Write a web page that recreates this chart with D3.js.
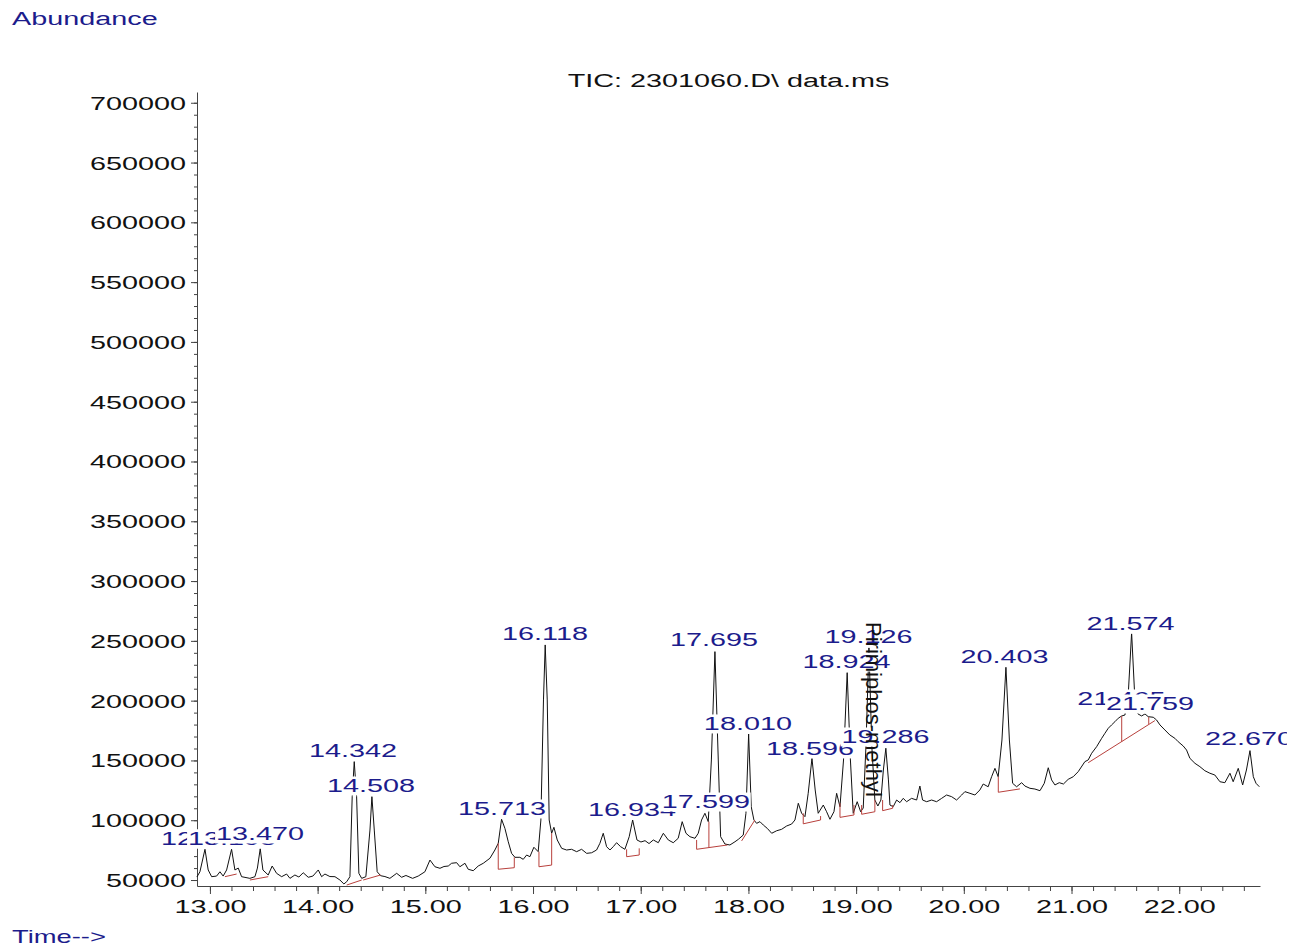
<!DOCTYPE html>
<html>
<head>
<meta charset="utf-8">
<script src="https://cdn.jsdelivr.net/npm/d3@7"></script>
<style>
  body { margin: 0; background: #fff; }
  svg { display: block; }
</style>
</head>
<body>
<div id="app"></div>
<script>
// TIC trace, [retention time (min), abundance]
const tic = [
  [12.879,52500],[12.907,56900],[12.954,75700],[12.984,58400],[13.016,52800],[13.062,53300],[13.093,56900],[13.123,53300],
  [13.155,58400],[13.201,75700],[13.232,58400],[13.263,60000],[13.294,52800],[13.371,51400],[13.418,52800],[13.441,60000],
  [13.467,76200],[13.492,58400],[13.541,54200],[13.578,61700],[13.619,55600],[13.666,52800],[13.712,55000],[13.743,51400],
  [13.789,54200],[13.826,52500],[13.866,56100],[13.913,52300],[13.956,53300],[14.006,58400],[14.037,52800],[14.068,55000],
  [14.114,52900],[14.161,52800],[14.207,50000],[14.244,46700],[14.270,48600],[14.300,52800],[14.321,119700],[14.340,149000],
  [14.362,119700],[14.383,55600],[14.409,51400],[14.448,52800],[14.486,91800],[14.504,119700],[14.526,91800],[14.553,56900],
  [14.585,53600],[14.625,52900],[14.671,51400],[14.734,55600],[14.780,52300],[14.820,53800],[14.882,51400],[14.934,53300],
  [14.996,56900],[15.043,66700],[15.089,61100],[15.136,59800],[15.173,61300],[15.213,61700],[15.244,64000],[15.291,64500],
  [15.321,61100],[15.368,64000],[15.398,59000],[15.445,57800],[15.491,61700],[15.538,64000],[15.600,68200],[15.646,75100],
  [15.677,80700],[15.708,100800],[15.739,93200],[15.770,82000],[15.801,72300],[15.832,69000],[15.878,69000],[15.909,67300],
  [15.941,70900],[15.971,69500],[16.008,77400],[16.048,73700],[16.073,100200],[16.097,200600],[16.113,246600],[16.132,200600],
  [16.150,100200],[16.173,89100],[16.194,94100],[16.225,83500],[16.266,76500],[16.312,75100],[16.358,75700],[16.405,73700],
  [16.451,75700],[16.498,72300],[16.544,72800],[16.590,75100],[16.621,80700],[16.652,89100],[16.683,77900],[16.714,75100],
  [16.745,77900],[16.776,81200],[16.813,77900],[16.853,75700],[16.893,86200],[16.925,100200],[16.965,83500],[17.002,81800],
  [17.040,82900],[17.077,80500],[17.117,83500],[17.163,81200],[17.210,89100],[17.256,83500],[17.302,81200],[17.348,84900],
  [17.385,98800],[17.420,89100],[17.457,86200],[17.504,84900],[17.534,89100],[17.565,100200],[17.596,105800],[17.627,98800],
  [17.656,150400],[17.689,241000],[17.720,150400],[17.742,86200],[17.782,80100],[17.828,79300],[17.875,82000],[17.906,84000],
  [17.952,87600],[17.977,105800],[18.002,172100],[18.026,111300],[18.051,100200],[18.076,97400],[18.107,98800],[18.138,96000],
  [18.175,93200],[18.216,89100],[18.262,91200],[18.308,92400],[18.355,95200],[18.401,96800],[18.432,100200],[18.463,114200],
  [18.494,105800],[18.525,103000],[18.555,122500],[18.590,151800],[18.620,125300],[18.648,105800],[18.695,112700],[18.726,107100],
  [18.757,100800],[18.794,107100],[18.819,122500],[18.850,111300],[18.883,150400],[18.917,223400],[18.947,150400],[18.973,105800],
  [19.010,115500],[19.042,107100],[19.066,110200],[19.091,161500],[19.119,244100],[19.146,161500],[19.174,116900],[19.202,111900],
  [19.230,116900],[19.253,142000],[19.276,160200],[19.300,133700],[19.314,112700],[19.344,111300],[19.376,116900],[19.407,114700],
  [19.437,118300],[19.469,115500],[19.515,118300],[19.562,116900],[19.592,128600],[19.617,116900],[19.655,115500],[19.701,116900],
  [19.747,115500],[19.794,118300],[19.840,121100],[19.887,119700],[19.933,116900],[19.980,121100],[20.010,123900],[20.057,122500],
  [20.103,121100],[20.149,125300],[20.180,130300],[20.226,128000],[20.258,136400],[20.289,143400],[20.319,136400],[20.354,167100],
  [20.391,227900],[20.423,167100],[20.453,130900],[20.490,128000],[20.537,131400],[20.567,128600],[20.614,126700],[20.660,126100],
  [20.707,124700],[20.747,130900],[20.784,143900],[20.815,133700],[20.846,129500],[20.886,131400],[20.925,130300],[20.969,134200],
  [21.016,136400],[21.062,140600],[21.124,149000],[21.155,150400],[21.187,156000],[21.233,161500],[21.280,168500],[21.310,172700],
  [21.341,176900],[21.372,179700],[21.403,182400],[21.434,185300],[21.466,187200],[21.496,188000],[21.529,208900],[21.558,256900],
  [21.584,208900],[21.617,188900],[21.651,187200],[21.682,188900],[21.712,186600],[21.759,186100],[21.790,183800],[21.821,179700],
  [21.867,175500],[21.913,171300],[21.960,168500],[21.990,165700],[22.037,162100],[22.068,158700],[22.099,151800],[22.146,147600],
  [22.192,144800],[22.238,141400],[22.285,139300],[22.331,137800],[22.378,132200],[22.424,131400],[22.471,139300],[22.501,132200],
  [22.548,143400],[22.589,129500],[22.624,142000],[22.657,158200],[22.688,136400],[22.713,130900],[22.744,128000]
]

// integration baselines: [t start, abundance start, t end, abundance end]
const baselines = [
  [13.139,52800,13.248,55000],[13.371,50000,13.541,52800],[14.270,45800,14.409,50000],[14.423,50000,14.585,54200],
  [15.677,59000,15.826,60300],[16.055,61100,16.173,62500],[16.869,69500,16.986,70900],[17.519,75700,17.805,79300],
  [17.937,82700,18.060,100200],[18.509,97000,18.670,100200],[18.850,102400,18.980,104400],[19.051,105000,19.174,107100],
  [19.246,108000,19.339,110000],[20.320,123400,20.521,126200],[21.155,148100,21.774,183300]
]
// drop lines: [t, abundance on baseline, abundance on trace]
const drops = [
  [15.677,59000,80700],[15.826,60300,69000],[16.055,61100,73700],[16.173,62500,89100],[16.869,69500,75700],
  [16.986,70900,76500],[17.519,75700,83500],[17.633,77100,98800],[18.509,97000,105800],[18.670,100200,103500],
  [18.850,102400,114400],[18.980,104400,112700],[19.051,105000,112700],[19.174,107100,116900],[19.246,108000,116900],
  [19.339,110000,112700],[20.320,123400,136400],[21.466,165700,187200],[21.717,180500,186300]
]

const peakLabels = ['12.954','13.198','13.470','14.342','14.508','15.713','16.118','16.934','17.599','17.695',
  '18.010','18.596','18.924','19.126','19.286','20.403','21.465','21.574','21.759','22.670']
const peakLabelTimes = [12.954,13.204,13.464,14.328,14.495,15.711,16.111,16.918,17.605,17.680,
  17.995,18.571,18.910,19.114,19.272,20.377,21.463,21.547,21.728,22.647]
const peakLabelLevels = [79300,79300,83500,152900,123600,104400,250800,103500,110200,245400,
  175500,154600,227300,248200,164600,231500,196400,258800,192200,162900]

const yMajor = d3.range(50000, 700001, 50000)
const yMinor = d3.range(50000, 700001, 10000)
const xMajor = d3.range(13, 22.01, 1)
const xMinor = d3.range(13, 22.7, 0.2)

const compound = 'Pirimiphos-methyl'
const title = 'TIC: 2301060.D\\ data.ms'

const FONT = "'Liberation Sans', Arial, sans-serif"
const STRETCH = 'scale(1.6,1)'
const BLUE = '#1c1c8c'

const svg = d3.select('#app').append('svg')
  .attr('width', 1303)
  .attr('height', 947)
  .style('font-family', FONT)

const x = d3.scaleLinear().domain([12.88, 22.75]).range([197, 1260])
const y = d3.scaleLinear().domain([45000, 709000]).range([886, 92])

// axes
const yAxis = svg.append('g')
  .attr('transform', 'translate(197,0)')
  .attr('color', '#444')
yAxis.call(d3.axisLeft(y).tickValues(yMinor).tickSize(3).tickSizeOuter(0).tickFormat(''))
yAxis.append('g').call(d3.axisLeft(y).tickValues(yMajor).tickSize(6).tickSizeOuter(0).tickFormat(d3.format('d')))
  .call(g => g.select('.domain').remove())
yAxis.selectAll('text')
  .attr('x', null).attr('dy', null)
  .attr('transform', 'translate(-11,6.5) ' + STRETCH)
  .attr('fill', '#111')
  .style('font-size', '18px').style('font-family', FONT)

const xAxis = svg.append('g')
  .attr('transform', 'translate(0,886)')
  .attr('color', '#444')
xAxis.call(d3.axisBottom(x).tickValues(xMinor).tickSize(5).tickSizeOuter(0).tickFormat(''))
xAxis.append('g').call(d3.axisBottom(x).tickValues(xMajor).tickSize(8).tickSizeOuter(0).tickFormat(d3.format('.2f')))
  .call(g => g.select('.domain').remove())
xAxis.selectAll('text')
  .attr('y', null).attr('dy', null)
  .attr('transform', 'translate(0,27) ' + STRETCH)
  .attr('fill', '#111')
  .style('font-size', '18px').style('font-family', FONT)

// trace
const line = d3.line().x(d => x(d[0])).y(d => y(d[1]))
svg.append('path')
  .datum(tic)
  .attr('d', line)
  .attr('fill', 'none')
  .attr('stroke', '#111')
  .attr('stroke-width', 1)

// integration marks
const red = '#b8403c'
svg.append('g').selectAll('line.base')
  .data(baselines).join('line')
  .attr('x1', d => x(d[0])).attr('y1', d => y(d[1]))
  .attr('x2', d => x(d[2])).attr('y2', d => y(d[3]))
  .attr('stroke', red).attr('stroke-width', 1)
svg.append('g').selectAll('line.drop')
  .data(drops).join('line')
  .attr('x1', d => x(d[0])).attr('y1', d => y(d[1]))
  .attr('x2', d => x(d[0])).attr('y2', d => y(d[2]))
  .attr('stroke', red).attr('stroke-width', 1)

// peak labels, each on a white box, later ones covering earlier ones
svg.append('defs').append('clipPath').attr('id', 'frame')
  .append('rect').attr('x', 0).attr('y', 0).attr('width', 1287).attr('height', 947)
const labels = svg.append('g').attr('clip-path', 'url(#frame)')
peakLabels.forEach((txt, i) => {
  const g = labels.append('g')
    .attr('transform', `translate(${x(peakLabelTimes[i])},${y(peakLabelLevels[i])}) ${STRETCH}`)
  const r = g.append('rect').attr('fill', '#fff')
  const t = g.append('text')
    .attr('text-anchor', 'middle')
    .attr('fill', BLUE)
    .style('font-size', '18px')
    .text(txt)
  const w = t.node().getComputedTextLength()
  r.attr('x', -w / 2 - 0.5).attr('y', -15.5).attr('width', w + 1).attr('height', 19)
})

// compound name, vertical
svg.append('text')
  .attr('transform', `translate(${x(19.11) - 2},622) rotate(90)`)
  .attr('fill', '#111')
  .style('font-size', '22px')
  .text(compound)

// titles
svg.append('text')
  .attr('transform', `translate(${(197 + 1260) / 2},87) ${STRETCH}`)
  .attr('text-anchor', 'middle')
  .attr('fill', '#111')
  .style('font-size', '18px')
  .text(title)
svg.append('text')
  .attr('transform', `translate(12,25) ${STRETCH}`)
  .attr('fill', BLUE)
  .style('font-size', '18px')
  .text('Abundance')
svg.append('text')
  .attr('transform', `translate(12,943) scale(1.52,1)`)
  .attr('fill', BLUE)
  .style('font-size', '18px')
  .text('Time-->')
</script>
</body>
</html>
